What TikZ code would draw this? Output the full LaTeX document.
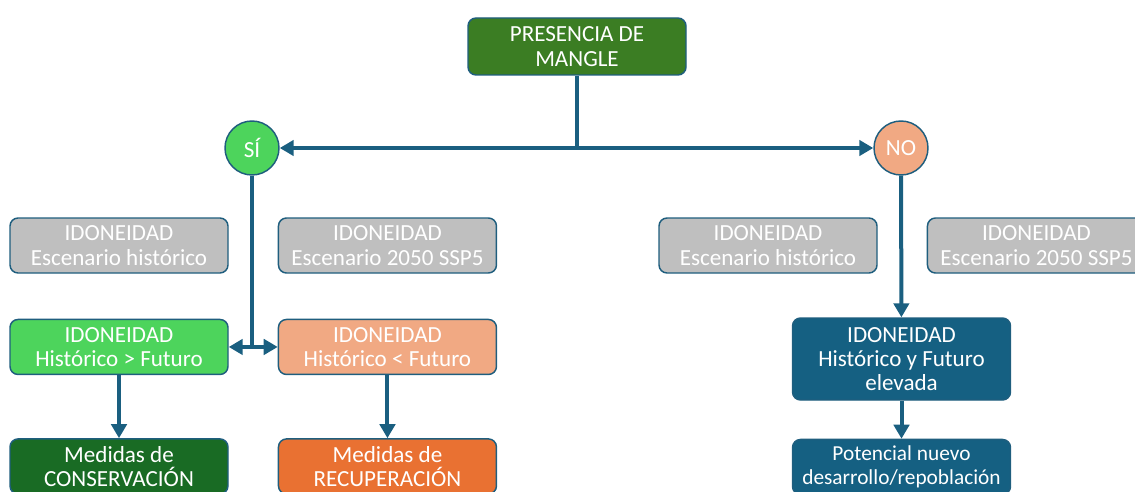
\documentclass[tikz,border=0pt]{standalone}
\usepackage{fontspec}
\setmainfont{Carlito}
\usepackage{tikz}
\usetikzlibrary{arrows.meta,positioning}
\usepackage{xcolor}
\definecolor{mangleborder}{HTML}{1F5E7E}
\definecolor{arrowblue}{HTML}{1A5F80}
\definecolor{topgreen}{HTML}{3B7D23}
\definecolor{sigreen}{HTML}{4DD45C}
\definecolor{nosalmon}{HTML}{F1A983}
\definecolor{idogray}{HTML}{BFBFBF}
\definecolor{consgreen}{HTML}{196B24}
\definecolor{recuorange}{HTML}{E97132}
\definecolor{potblue}{HTML}{156082}

\begin{document}
\begin{tikzpicture}[
    x=0.75pt, y=-0.75pt,
    box/.style={rectangle, rounded corners=6pt, draw=mangleborder, line width=1.1pt, minimum width=163.5pt, minimum height=41.25pt, inner sep=0pt, align=center, text=white, font=\fontsize{17.3}{18.3}\selectfont},
    circ/.style={circle, draw=mangleborder, line width=1.1pt, minimum size=40.5pt, inner sep=0pt, text=white, font=\fontsize{17.3}{18.3}\selectfont},
    arrow/.style={->, >={Triangle[length=10.5pt,width=11.5pt]}, line width=3pt, draw=arrowblue},
    link/.style={line width=3pt, draw=arrowblue}
]
\useasboundingbox (0,0) rectangle (1135,492);

% Raiz
\node[box, fill=topgreen, minimum height=42.75pt] (presencia) at (577,46.5) {PRESENCIA DE\\MANGLE};

% Respuestas
\node[circ, fill=sigreen] (si) at (252,148) {SÍ};
\node[circ, fill=nosalmon] (no) at (901,148) {NO};

% Idoneidad - escenarios
\node[box, fill=idogray] (histsi) at (119,245.5) {IDONEIDAD\\Escenario histórico};
\node[box, fill=idogray, right=36.75pt of histsi] (futsi) {IDONEIDAD\\Escenario 2050 SSP5};
\node[box, fill=idogray] (histno) at (768,245.5) {IDONEIDAD\\Escenario histórico};
\node[box, fill=idogray, right=36.75pt of histno] (futno) {IDONEIDAD\\Escenario 2050 SSP5};

% Comparacion
\node[box, fill=sigreen, below=33.75pt of histsi] (mayor) {IDONEIDAD\\Histórico > Futuro};
\node[box, fill=nosalmon, right=36.75pt of mayor] (menor) {IDONEIDAD\\Histórico < Futuro};
\node[box, fill=potblue, minimum height=61.5pt] (elevada) at (901.5,359) {IDONEIDAD\\Histórico y Futuro\\elevada};

% Medidas
\node[box, fill=consgreen, below=47.25pt of mayor] (conserv) {Medidas de\\CONSERVACIÓN};
\node[box, fill=recuorange, below=47.25pt of menor] (recup) {Medidas de\\RECUPERACIÓN};
\node[box, fill=potblue, below=28.5pt of elevada, font=\fontsize{16}{17.5}\selectfont] (potencial) {Potencial nuevo\\desarrollo/repoblación};

% Flechas
\coordinate (cruce) at (presencia.south |- si);
\draw[link] (presencia.south) -- (cruce);
\draw[arrow] (cruce) -- (si);
\draw[arrow] (cruce) -- (no);
\draw[link] (si) -- (si |- mayor);
\draw[arrow, <->] (mayor) -- (menor);
\draw[arrow] (no) -- (elevada);
\draw[arrow] (mayor) -- (conserv);
\draw[arrow] (menor) -- (recup);
\draw[arrow] (elevada) -- (potencial);

\end{tikzpicture}
\end{document}
